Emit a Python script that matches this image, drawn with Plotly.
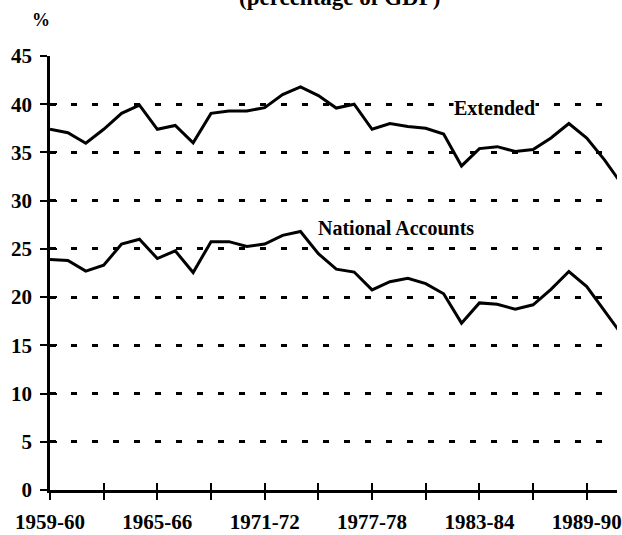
import plotly.graph_objects as go

years = ["1959-60", "1960-61", "1961-62", "1962-63", "1963-64", "1964-65", "1965-66",
         "1966-67", "1967-68", "1968-69", "1969-70", "1970-71", "1971-72", "1972-73",
         "1973-74", "1974-75", "1975-76", "1976-77", "1977-78", "1978-79", "1979-80",
         "1980-81", "1981-82", "1982-83", "1983-84", "1984-85", "1985-86", "1986-87",
         "1987-88", "1988-89", "1989-90", "1990-91", "1991-92"]

extended = [37.4, 37.05, 35.95, 37.4, 39.05, 39.9, 37.4, 37.8, 36.0, 39.05, 39.3, 39.3,
            39.65, 41.0, 41.8, 40.9, 39.6, 40.0, 37.4, 38.0, 37.7, 37.5, 36.9, 33.6,
            35.4, 35.6, 35.1, 35.3, 36.5, 38.0, 36.5, 34.2, 31.6]

national = [23.9, 23.8, 22.7, 23.3, 25.5, 26.0, 24.0, 24.8, 22.55, 25.75, 25.75, 25.25,
            25.5, 26.4, 26.8, 24.5, 22.9, 22.6, 20.75, 21.6, 21.95, 21.4, 20.35, 17.3,
            19.4, 19.25, 18.75, 19.2, 20.8, 22.65, 21.1, 18.5, 16.0]

y_ticks = [0, 5, 10, 15, 20, 25, 30, 35, 40, 45]
x_tickvals = years[::3]
x_ticktext = [y if i % 2 == 0 else "" for i, y in enumerate(x_tickvals)]

FONT = "Liberation Serif, Times New Roman, DejaVu Serif, serif"
xr = [0, 31.69]
yr = [0, 45]

fig = go.Figure()
fig.add_trace(go.Scatter(x=years, y=extended, mode="lines",
                         line=dict(color="black", width=3), showlegend=False,
                         hoverinfo="skip"))
fig.add_trace(go.Scatter(x=years, y=national, mode="lines",
                         line=dict(color="black", width=3), showlegend=False,
                         hoverinfo="skip"))
# invisible trace to instantiate overlay axes (inside ticks)
fig.add_trace(go.Scatter(x=years, y=national, mode="lines", xaxis="x2", yaxis="y2",
                         line=dict(color="rgba(0,0,0,0)", width=0), showlegend=False,
                         hoverinfo="skip"))

fig.update_layout(
    width=622, height=535,
    margin=dict(l=50, r=0, t=56, b=45),
    paper_bgcolor="white", plot_bgcolor="white",
    font=dict(family=FONT, size=21, color="black", weight="bold"),
    xaxis=dict(type="category", categoryorder="array", categoryarray=years,
               range=xr, tickmode="array", tickvals=x_tickvals, ticktext=x_ticktext,
               ticks="outside", ticklen=7, tickwidth=2, tickcolor="black",
               showline=True, linecolor="black", linewidth=2.5,
               showgrid=False, zeroline=False, ticklabelstandoff=4,
               tickfont=dict(family=FONT, size=21, weight="bold")),
    yaxis=dict(range=yr, tickmode="array", tickvals=y_ticks,
               ticks="outside", ticklen=7, tickwidth=2, tickcolor="black",
               showline=True, linecolor="black", linewidth=2.5,
               showgrid=True, gridcolor="black", gridwidth=3, griddash="6px,15px",
               zeroline=False, ticklabelstandoff=4,
               tickfont=dict(family=FONT, size=21, weight="bold")),
    xaxis2=dict(type="category", categoryorder="array", categoryarray=years,
                range=xr, overlaying="x", tickmode="array", tickvals=x_tickvals,
                ticks="inside", ticklen=7, tickwidth=2, tickcolor="black",
                showticklabels=False, showline=False, showgrid=False, zeroline=False),
    yaxis2=dict(range=yr, overlaying="y", tickmode="array", tickvals=y_ticks,
                ticks="inside", ticklen=7, tickwidth=2, tickcolor="black",
                showticklabels=False, showline=False, showgrid=False, zeroline=False),
)

fig.add_annotation(x=24.82, y=39.57, xref="x", yref="y", text="Extended",
                   showarrow=False, font=dict(family=FONT, size=20, weight="bold"),
                   bgcolor="white", borderpad=0)
fig.add_annotation(x=19.34, y=27.18, xref="x", yref="y", text="National Accounts",
                   showarrow=False, font=dict(family=FONT, size=20, weight="bold"),
                   bgcolor="white", borderpad=0)
fig.add_annotation(x=-0.035, y=1.111, xref="paper", yref="paper", text="%",
                   showarrow=False, font=dict(family=FONT, size=18, weight="bold"))
fig.add_annotation(x=0.51, y=1.101, xref="paper", yref="paper", yanchor="bottom",
                   text="(percentage of GDP)", showarrow=False,
                   font=dict(family=FONT, size=23, weight="bold"))

fig.write_html("out.html", config={"displayModeBar": False},
               post_script="document.body.style.margin='0';")
